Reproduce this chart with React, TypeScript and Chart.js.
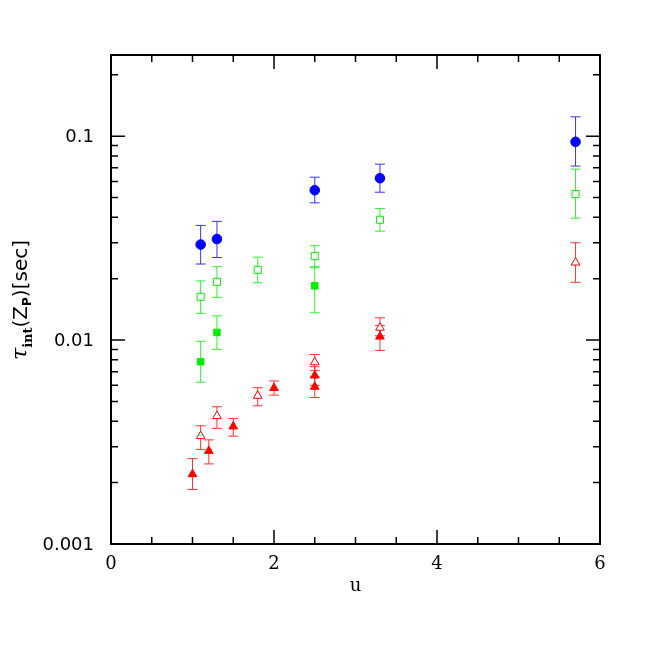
import { useEffect, useRef } from "react";
import { Chart, registerables } from "chart.js";
Chart.register(...registerables);

// Blue filled circles
const blueX = [1.1, 1.3, 2.5, 3.3, 5.7];
const blueY = [0.0294, 0.0313, 0.0543, 0.0622, 0.0938];
const blueLo = [0.0236, 0.0254, 0.0471, 0.0531, 0.0713];
const blueHi = [0.0365, 0.0382, 0.0629, 0.0729, 0.1244];

// Green open squares
const gOpenX = [1.1, 1.3, 1.8, 2.5, 3.3, 5.7];
const gOpenY = [0.0163, 0.0193, 0.0221, 0.0258, 0.0389, 0.052];
const gOpenLo = [0.01352, 0.0162, 0.0191, 0.0226, 0.0342, 0.0396];
const gOpenHi = [0.0195, 0.0229, 0.0255, 0.029, 0.0442, 0.0689];

// Green filled squares
const gFillX = [1.1, 1.3, 2.5];
const gFillY = [0.00783, 0.0109, 0.01845];
const gFillLo = [0.00621, 0.009, 0.0136];
const gFillHi = [0.00986, 0.01315, 0.0229];

// Red open triangles
const rOpenX = [1.1, 1.3, 1.8, 2.5, 3.3, 5.7];
const rOpenY = [0.00338, 0.00424, 0.00533, 0.00778, 0.0115, 0.024];
const rOpenLo = [0.00291, 0.00369, 0.00476, 0.0071, 0.0105, 0.0192];
const rOpenHi = [0.0038, 0.00471, 0.00584, 0.0085, 0.01286, 0.03];

// Red filled triangles
const rFillX = [1.0, 1.2, 1.5, 2.0, 2.5, 2.5, 3.3];
const rFillY = [0.0022, 0.00286, 0.00377, 0.00582, 0.0067, 0.0059, 0.0104];
const rFillLo = [0.00185, 0.00247, 0.00338, 0.00537, 0.006, 0.00523, 0.0089];
const rFillHi = [0.00262, 0.00324, 0.00413, 0.0063, 0.0074, 0.0066, 0.0118];

const xMajorTicks = [0, 2, 4, 6];
const xMinorTicks = [0.5, 1, 1.5, 2.5, 3, 3.5, 4.5, 5, 5.5];
const yMajorTicks = [0.001, 0.01, 0.1];
const yMajorLabels = ["0.001", "0.01", "0.1"];
const yMinorTicks = [
  0.002, 0.003, 0.004, 0.005, 0.006, 0.007, 0.008, 0.009,
  0.02, 0.03, 0.04, 0.05, 0.06, 0.07, 0.08, 0.09,
  0.2,
];

const X_MIN = 0, X_MAX = 6, Y_MIN = 0.001, Y_MAX = 0.25;

function pts(xs: number[], ys: number[]) {
  return xs.map((x, i) => ({ x, y: ys[i] }));
}

const errorBarPlugin = {
  id: "errorBars",
  beforeDatasetsDraw(chart: any) {
    const ctx = chart.ctx;
    const ys = chart.scales.y;
    ctx.save();
    chart.data.datasets.forEach((ds: any, di: number) => {
      const meta = chart.getDatasetMeta(di);
      ctx.strokeStyle = ds.errColor;
      ctx.lineWidth = 1;
      meta.data.forEach((el: any, i: number) => {
        const x = el.x;
        const yl = ys.getPixelForValue(ds.errLo[i]);
        const yh = ys.getPixelForValue(ds.errHi[i]);
        ctx.beginPath();
        ctx.moveTo(x, yl);
        ctx.lineTo(x, yh);
        ctx.moveTo(x - 5, yl);
        ctx.lineTo(x + 5, yl);
        ctx.moveTo(x - 5, yh);
        ctx.lineTo(x + 5, yh);
        ctx.stroke();
      });
    });
    ctx.restore();
  },
};

const framePlugin = {
  id: "frame",
  afterDraw(chart: any) {
    const ctx = chart.ctx;
    const { left, right, top, bottom } = chart.chartArea;
    const xs = chart.scales.x;
    const ys = chart.scales.y;
    ctx.save();
    ctx.strokeStyle = "#000";
    ctx.lineWidth = 2;
    ctx.strokeRect(left, top, right - left, bottom - top);
    ctx.lineWidth = 1.5;
    ctx.beginPath();
    const vt = (v: number, len: number) => {
      const x = xs.getPixelForValue(v);
      ctx.moveTo(x, bottom);
      ctx.lineTo(x, bottom - len);
      ctx.moveTo(x, top);
      ctx.lineTo(x, top + len);
    };
    const ht = (v: number, len: number) => {
      const y = ys.getPixelForValue(v);
      ctx.moveTo(left, y);
      ctx.lineTo(left + len, y);
      ctx.moveTo(right, y);
      ctx.lineTo(right - len, y);
    };
    xMajorTicks.forEach((v) => vt(v, 14));
    xMinorTicks.forEach((v) => vt(v, 7));
    yMajorTicks.forEach((v) => ht(v, 14));
    yMinorTicks.forEach((v) => ht(v, 7));
    ctx.stroke();

    ctx.fillStyle = "#000";
    ctx.font = '18px "DejaVu Serif"';
    ctx.textAlign = "center";
    ctx.textBaseline = "middle";
    xMajorTicks.forEach((v) => {
      ctx.fillText(String(v), xs.getPixelForValue(v), bottom + 20);
    });
    ctx.fillText("u", xs.getPixelForValue(3), bottom + 42);

    ctx.font = '18px "DejaVu Sans"';
    ctx.textAlign = "right";
    yMajorTicks.forEach((v, i) => {
      ctx.fillText(yMajorLabels[i], left - 17, ys.getPixelForValue(v) + 1);
    });

    // y axis title
    const parts: { t: string; f: string; dy: number }[] = [
      { t: "\u03c4", f: 'italic 22px "DejaVu Serif"', dy: 0 },
      { t: "int", f: 'bold 13px "DejaVu Serif"', dy: 5 },
      { t: "(Z", f: '20px "DejaVu Sans"', dy: 0 },
      { t: "P", f: 'bold 12px "DejaVu Sans"', dy: 4 },
      { t: ")[sec]", f: '20px "DejaVu Sans"', dy: 0 },
    ];
    let total = 0;
    parts.forEach((p) => {
      ctx.font = p.f;
      total += ctx.measureText(p.t).width;
    });
    ctx.translate(27, 300);
    ctx.rotate(-Math.PI / 2);
    ctx.textAlign = "left";
    ctx.textBaseline = "alphabetic";
    let cx = -total / 2;
    parts.forEach((p) => {
      ctx.font = p.f;
      ctx.fillText(p.t, cx, p.dy);
      cx += ctx.measureText(p.t).width;
    });
    ctx.restore();
  },
};

export default function App() {
  const ref = useRef<HTMLCanvasElement | null>(null);
  useEffect(() => {
    if (!ref.current) return;
    const chart = new Chart(ref.current, {
      type: "scatter",
      data: {
        datasets: [
          {
            data: pts(blueX, blueY),
            pointStyle: "circle",
            pointRadius: 4.8,
            backgroundColor: "#0000ff",
            borderColor: "#0000ff",
            borderWidth: 1,
            errLo: blueLo, errHi: blueHi, errColor: "#3333ff",
          } as any,
          {
            data: pts(gOpenX, gOpenY),
            pointStyle: "rect",
            pointRadius: 5,
            backgroundColor: "#ffffff",
            borderColor: "#00ee00",
            borderWidth: 1,
            errLo: gOpenLo, errHi: gOpenHi, errColor: "#33ee33",
          } as any,
          {
            data: pts(gFillX, gFillY),
            pointStyle: "rect",
            pointRadius: 4.6,
            backgroundColor: "#00ee00",
            borderColor: "#00ee00",
            borderWidth: 1,
            errLo: gFillLo, errHi: gFillHi, errColor: "#33ee33",
          } as any,
          {
            data: pts(rOpenX, rOpenY),
            pointStyle: "triangle",
            pointRadius: 5,
            backgroundColor: "#ffffff",
            borderColor: "#ff0000",
            borderWidth: 1,
            errLo: rOpenLo, errHi: rOpenHi, errColor: "#ff3333",
          } as any,
          {
            data: pts(rFillX, rFillY),
            pointStyle: "triangle",
            pointRadius: 5,
            backgroundColor: "#ff0000",
            borderColor: "#ff0000",
            borderWidth: 1,
            errLo: rFillLo, errHi: rFillHi, errColor: "#ff3333",
          } as any,
        ],
      },
      options: {
        responsive: false,
        animation: false,
        events: [],
        layout: { padding: { left: 111, right: 54, top: 55, bottom: 110 } },
        plugins: { legend: { display: false }, tooltip: { enabled: false } },
        scales: {
          x: { type: "linear", min: X_MIN, max: X_MAX, display: false },
          y: { type: "logarithmic", min: Y_MIN, max: Y_MAX, display: false },
        },
      },
      plugins: [errorBarPlugin, framePlugin],
    });
    return () => chart.destroy();
  }, []);
  return (
    <div style={{ position: "absolute", left: 0, top: 0, width: 654, height: 654, background: "#fff" }}>
      <canvas ref={ref} width={654} height={654} style={{ display: "block" }} />
    </div>
  );
}
